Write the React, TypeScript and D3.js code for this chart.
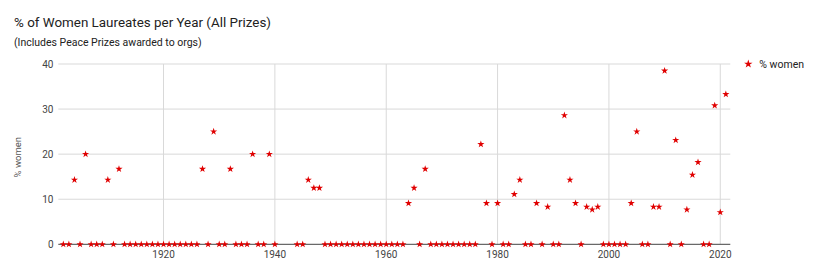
import React from "react";
import * as d3 from "d3";

const years = [
  1902, 1903, 1904, 1905, 1906, 1907, 1908, 1909, 1910, 1911, 1912, 1913, 1914, 1915, 1916, 1917, 1918, 1919, 1920,
  1921, 1922, 1923, 1924, 1925, 1926, 1927, 1928, 1929, 1930, 1931, 1932, 1933, 1934, 1935, 1936, 1937, 1938, 1939,
  1940, 1944, 1945, 1946, 1947, 1948, 1949, 1950, 1951, 1952, 1953, 1954, 1955, 1956, 1957, 1958, 1959, 1960,
  1961, 1962, 1963, 1964, 1965, 1966, 1967, 1968, 1969, 1970, 1971, 1972, 1973, 1974, 1975, 1976, 1977, 1978,
  1979, 1980, 1981, 1982, 1983, 1984, 1985, 1986, 1987, 1988, 1989, 1990, 1991, 1992, 1993, 1994, 1995, 1996,
  1997, 1998, 1999, 2000, 2001, 2002, 2003, 2004, 2005, 2006, 2007, 2008, 2009, 2010, 2011, 2012, 2013, 2014,
  2015, 2016, 2017, 2018, 2019, 2020, 2021,
];

const pctWomen = [
  0, 0, 14.3, 0, 20, 0, 0, 0, 14.3, 0, 16.7, 0, 0, 0, 0, 0, 0, 0, 0,
  0, 0, 0, 0, 0, 0, 16.7, 0, 25, 0, 0, 16.7, 0, 0, 0, 20, 0, 0, 20,
  0, 0, 0, 14.3, 12.5, 12.5, 0, 0, 0, 0, 0, 0, 0, 0, 0, 0, 0, 0,
  0, 0, 0, 9.1, 12.5, 0, 16.7, 0, 0, 0, 0, 0, 0, 0, 0, 0, 22.2, 9.1,
  0, 9.1, 0, 0, 11.1, 14.3, 0, 0, 9.1, 0, 8.3, 0, 0, 28.6, 14.3, 9.1, 0, 8.3,
  7.7, 8.3, 0, 0, 0, 0, 0, 9.1, 25, 0, 0, 8.3, 8.3, 38.5, 0, 23.1, 0, 7.7,
  15.4, 18.2, 0, 0, 30.8, 7.1, 33.3,
];

const xTicks = [1920, 1940, 1960, 1980, 2000, 2020];
const yTicks = [0, 10, 20, 30, 40];

const title = "% of Women Laureates per Year (All Prizes)";
const subtitle = "(Includes Peace Prizes awarded to orgs)";
const yAxisTitle = "% women";
const seriesName = "% women";

const W = 824;
const H = 274;
const plot = { left: 58.3, right: 730.3, top: 64, bottom: 244.3 };
const RED = "#e00000";
const FONT = "Roboto, 'Noto Sans', Arial, sans-serif";

export default function App() {
  const x = d3.scaleLinear().domain([1901.1, 2021.8]).range([plot.left, plot.right]);
  const y = d3.scaleLinear().domain([0, 40]).range([plot.bottom, plot.top]);
  const star = d3.symbol().type(d3.symbolStar).size(16)() as string;
  const legendStar = d3.symbol().type(d3.symbolStar).size(22)() as string;

  return (
    <svg
      width={W}
      height={H}
      style={{ position: "absolute", left: 0, top: 0, background: "#fff" }}
      fontFamily={FONT}
    >
      <rect width={W} height={H} fill="#fff" />
      <text x={14} y={27} fontSize={13.4} fill="#222">
        {title}
      </text>
      <text x={14} y={46} fontSize={10.5} fill="#222">
        {subtitle}
      </text>

      {/* horizontal grid */}
      {yTicks.map((t) => (
        <g key={"y" + t}>
          {t !== 0 && (
            <line x1={plot.left} x2={plot.right} y1={y(t)} y2={y(t)} stroke="#d9d9d9" strokeWidth={1} />
          )}
          <text x={53.5} y={y(t)} dy="0.35em" textAnchor="end" fontSize={10} fill="#444">
            {t}
          </text>
        </g>
      ))}
      {/* vertical grid */}
      {xTicks.map((t) => (
        <g key={"x" + t}>
          <line x1={x(t)} x2={x(t)} y1={plot.top} y2={plot.bottom} stroke="#d9d9d9" strokeWidth={1} />
          <text x={x(t)} y={257.5} textAnchor="middle" fontSize={10} fill="#444">
            {t}
          </text>
        </g>
      ))}
      {/* baseline */}
      <line x1={plot.left} x2={plot.right} y1={y(0)} y2={y(0)} stroke="#444" strokeWidth={1} />

      <text
        transform={`translate(21,${(plot.top + plot.bottom) / 2 + 3}) rotate(-90)`}
        textAnchor="middle"
        fontSize={9.5}
        fill="#555"
      >
        {yAxisTitle}
      </text>

      {/* points */}
      {years.map((yr, i) => (
        <path key={yr} d={star} transform={`translate(${x(yr)},${y(pctWomen[i])})`} fill={RED} />
      ))}

      {/* legend */}
      <path d={legendStar} transform="translate(748.3,64)" fill={RED} />
      <text x={759.3} y={64} dy="0.35em" fontSize={10.5} fill="#222">
        {seriesName}
      </text>
    </svg>
  );
}
